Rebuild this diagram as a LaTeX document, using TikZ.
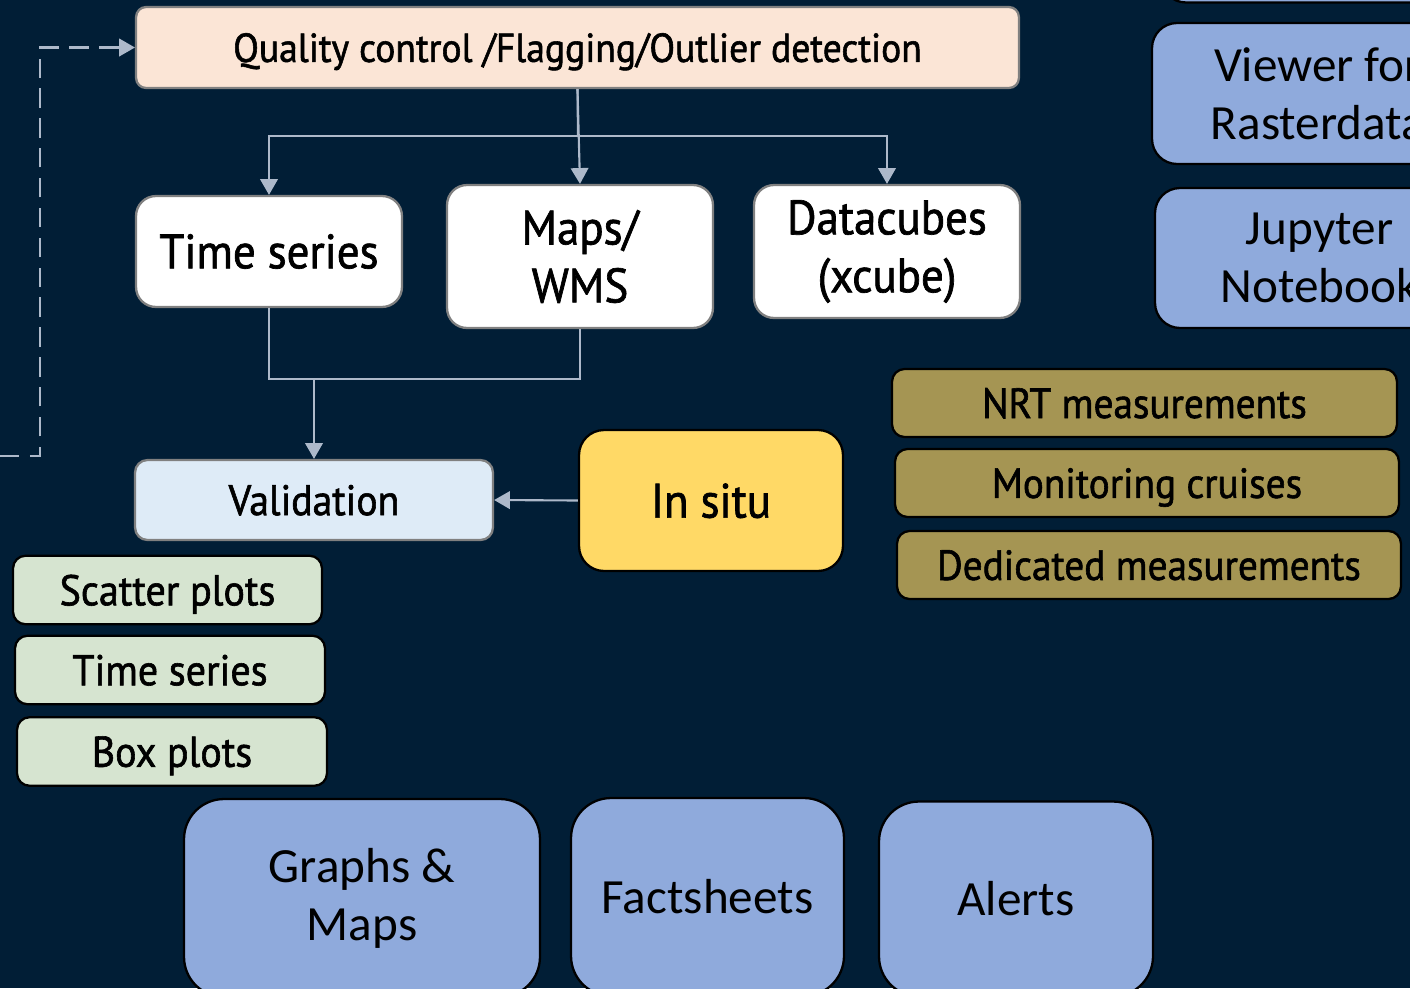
\documentclass[tikz,border=0pt]{standalone}
\usepackage{fontspec}
\usepackage{tikz}
\usetikzlibrary{positioning,arrows.meta}
\newfontfamily\dinfont[FakeStretch=0.93, FakeBold=1.4]{PT Sans}
\newfontfamily\califont{Carlito}
\definecolor{navybg}{HTML}{011E36}
\definecolor{peach}{HTML}{FBE5D6}
\definecolor{paleblue}{HTML}{DEEBF7}
\definecolor{sunny}{HTML}{FFD966}
\definecolor{olive}{HTML}{A59553}
\definecolor{sage}{HTML}{D6E4D0}
\definecolor{toolblue}{HTML}{8FAADC}
\definecolor{linkgray}{HTML}{ADB9CA}
\definecolor{edgegray}{HTML}{808080}
\tikzset{
  flowarrow/.style={-{Triangle[length=9pt, width=10pt]}, line width=1.2pt, draw=linkgray},
  link/.style={line width=1.2pt, draw=linkgray},
  basebox/.style={draw, line width=1.3pt, align=center, inner sep=0pt, text=black},
  oneline/.style={text depth=0pt},
  qcnode/.style={basebox, oneline, draw=edgegray, fill=peach, rounded corners=0.2cm, font=\dinfont\fontsize{23}{28}\selectfont},
  outnode/.style={basebox, draw=edgegray, fill=white, rounded corners=0.4cm, minimum width=5.32cm, font=\dinfont\fontsize{27.5}{33}\selectfont},
  valnode/.style={basebox, oneline, draw=edgegray, fill=paleblue, rounded corners=0.25cm, font=\dinfont\fontsize{24.3}{30}\selectfont},
  insitunode/.style={basebox, oneline, draw=black, fill=sunny, rounded corners=0.5cm, font=\dinfont\fontsize{27.5}{33}\selectfont},
  obsnode/.style={basebox, oneline, draw=black, fill=olive, rounded corners=0.25cm, minimum height=1.36cm, font=\dinfont\fontsize{24}{29}\selectfont},
  plotnode/.style={basebox, oneline, draw=black, fill=sage, rounded corners=0.25cm, minimum height=1.37cm, font=\dinfont\fontsize{24.5}{29}\selectfont},
  toolnode/.style={basebox, draw=black, fill=toolblue, font=\califont\fontsize{28}{33}\selectfont}
}

\begin{document}
\begin{tikzpicture}[x=0.02cm, y=-0.02cm]
  \useasboundingbox (0,0) rectangle (1410,988);
  \clip (0,0) rectangle (1410,988);
  \fill[navybg] (0,0) rectangle (1410,988);

  % processing chain
  \node[qcnode, minimum width=17.66cm, minimum height=1.62cm] (qc) at (577.5,47.5) {Quality control /Flagging/Outlier detection};
  \node[outnode, minimum height=2.22cm] (tseries) at (269,251.5) {Time series};
  \node[outnode, minimum height=2.86cm] (maps) at (580,256.5) {Maps/\\WMS};
  \node[outnode, minimum height=2.66cm] (cubes) at (887,251.5) {Datacubes\\(xcube)};
  \node[valnode, minimum width=7.16cm, minimum height=1.6cm] (valid) at (314,500) {Validation};
  \node[insitunode, minimum width=5.28cm, minimum height=2.82cm] (insitu) at (711,500.5) {In situ};

  % observation sources
  \node[obsnode, minimum width=10.1cm] (nrt) at (1144.5,403) {NRT measurements};
  \node[obsnode, minimum width=10.08cm] (cruise) at (1147,483) {Monitoring cruises};
  \node[obsnode, minimum width=10.08cm] (dedic) at (1149,565) {Dedicated measurements};

  % validation products
  \node[plotnode, minimum width=6.18cm] (scatter) at (167.5,590) {Scatter plots};
  \node[plotnode, minimum width=6.2cm] (tsplot) at (170,670) {Time series};
  \node[plotnode, minimum width=6.2cm] (boxplot) at (172,751.5) {Box plots};

  % user tools
  \node[toolnode, rounded corners=0.5cm, minimum width=6.6cm, minimum height=1.3cm] (topbox) at (1326,-30) {};
  \node[toolnode, rounded corners=0.5cm, minimum width=6.64cm, minimum height=2.82cm] (viewer) at (1318,93.5) {Viewer for\\Rasterdata};
  \node[toolnode, rounded corners=0.5cm, minimum width=6.58cm, minimum height=2.8cm] (jupyter) at (1319.5,258) {Jupyter\\Notebook};
  \node[toolnode, rounded corners=0.8cm, minimum width=7.12cm, minimum height=3.96cm] (graphs) at (362,898) {Graphs \&\\Maps};
  \node[toolnode, rounded corners=0.8cm, minimum width=5.46cm, minimum height=3.96cm] (facts) at (707.5,897) {Factsheets};
  \node[toolnode, rounded corners=0.8cm, minimum width=5.48cm, minimum height=3.9cm] (alerts) at (1016,899) {Alerts};

  % connectors
  \coordinate (split) at (578,136);
  \coordinate (merge) at (314,379);
  \coordinate (loopstart) at (0,456);
  \draw[link] (qc.south) -- (split);
  \draw[flowarrow] (split) -| (tseries.north);
  \draw[flowarrow] (split) -| (cubes.north);
  \draw[flowarrow] (qc.south) -- (maps.north);
  \draw[link] (tseries.south) |- (merge) -| (maps.south);
  \draw[flowarrow] (merge) -- (valid.north);
  \draw[flowarrow] (insitu.west) -- (valid.east);
  \draw[flowarrow, dash pattern=on 11pt off 6pt] (loopstart) -- ++(40,0) |- (qc.west);
\end{tikzpicture}
\end{document}
